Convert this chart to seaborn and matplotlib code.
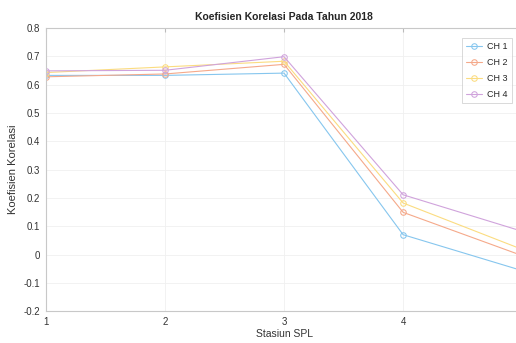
import pandas as pd
import seaborn as sns
import matplotlib.pyplot as plt

stations = [1, 2, 3, 4, 5]
ch1 = [0.633, 0.633, 0.641, 0.070, -0.057]
ch2 = [0.628, 0.638, 0.672, 0.149, -0.004]
ch3 = [0.643, 0.663, 0.683, 0.182, 0.018]
ch4 = [0.649, 0.651, 0.699, 0.211, 0.082]
series = ["CH 1", "CH 2", "CH 3", "CH 4"]
colors = ["#86c6ee", "#f5a98a", "#fbdc80", "#d0a3dc"]

df = pd.DataFrame({"Stasiun": stations * 4,
                   "Korelasi": ch1 + ch2 + ch3 + ch4,
                   "Seri": [s for s in series for _ in stations]})

sns.set_style("white")
plt.rcParams["font.family"] = ["Liberation Sans", "DejaVu Sans"]

fig = plt.figure(figsize=(5.16, 3.43), dpi=100)
ax = fig.add_axes([0.089, 0.093, 0.923, 0.825])

sns.lineplot(data=df, x="Stasiun", y="Korelasi", hue="Seri", palette=colors,
             marker="o", markersize=4, markerfacecolor="none", linewidth=0.8,
             ax=ax)
for line, c in zip(ax.lines, colors):
    line.set_markeredgecolor(c)

ax.set_xlim(1, 5)
ax.set_ylim(-0.2, 0.8)
ax.set_xticks([1, 2, 3, 4])
ax.set_yticks([-0.2, -0.1, 0, 0.1, 0.2, 0.3, 0.4, 0.5, 0.6, 0.7, 0.8])
ax.set_yticklabels(["-0.2", "-0.1", "0", "0.1", "0.2", "0.3", "0.4", "0.5", "0.6", "0.7", "0.8"])
ax.grid(True, color="#f0f0f0", linewidth=0.6)
ax.tick_params(direction="in", length=3, labelsize=7, colors="#bbbbbb",
               labelcolor="#333333", top=True, right=True, pad=4)
for s in ax.spines.values():
    s.set_color("#c8c8c8")
    s.set_linewidth(0.8)

ax.set_title("Koefisien Korelasi Pada Tahun 2018", fontsize=7.5, fontweight="bold", pad=6)
ax.set_xlabel("Stasiun SPL", fontsize=7.5, color="#333333", labelpad=2)
ax.set_ylabel("Koefisien Korelasi", fontsize=8, color="#333333", labelpad=4)

leg = ax.legend(loc="upper right", bbox_to_anchor=(0.984, 0.975), fontsize=6.5,
                frameon=True, fancybox=False, edgecolor="#c8c8c8",
                handlelength=1.8, handletextpad=0.5, borderpad=0.5,
                labelspacing=0.75, borderaxespad=0.3)
leg.get_frame().set_linewidth(0.6)
for h, c in zip(leg.legend_handles, colors):
    h.set_marker("o")
    h.set_markersize(4)
    h.set_markerfacecolor("none")
    h.set_markeredgecolor(c)

fig.savefig("out.png", dpi=100)
